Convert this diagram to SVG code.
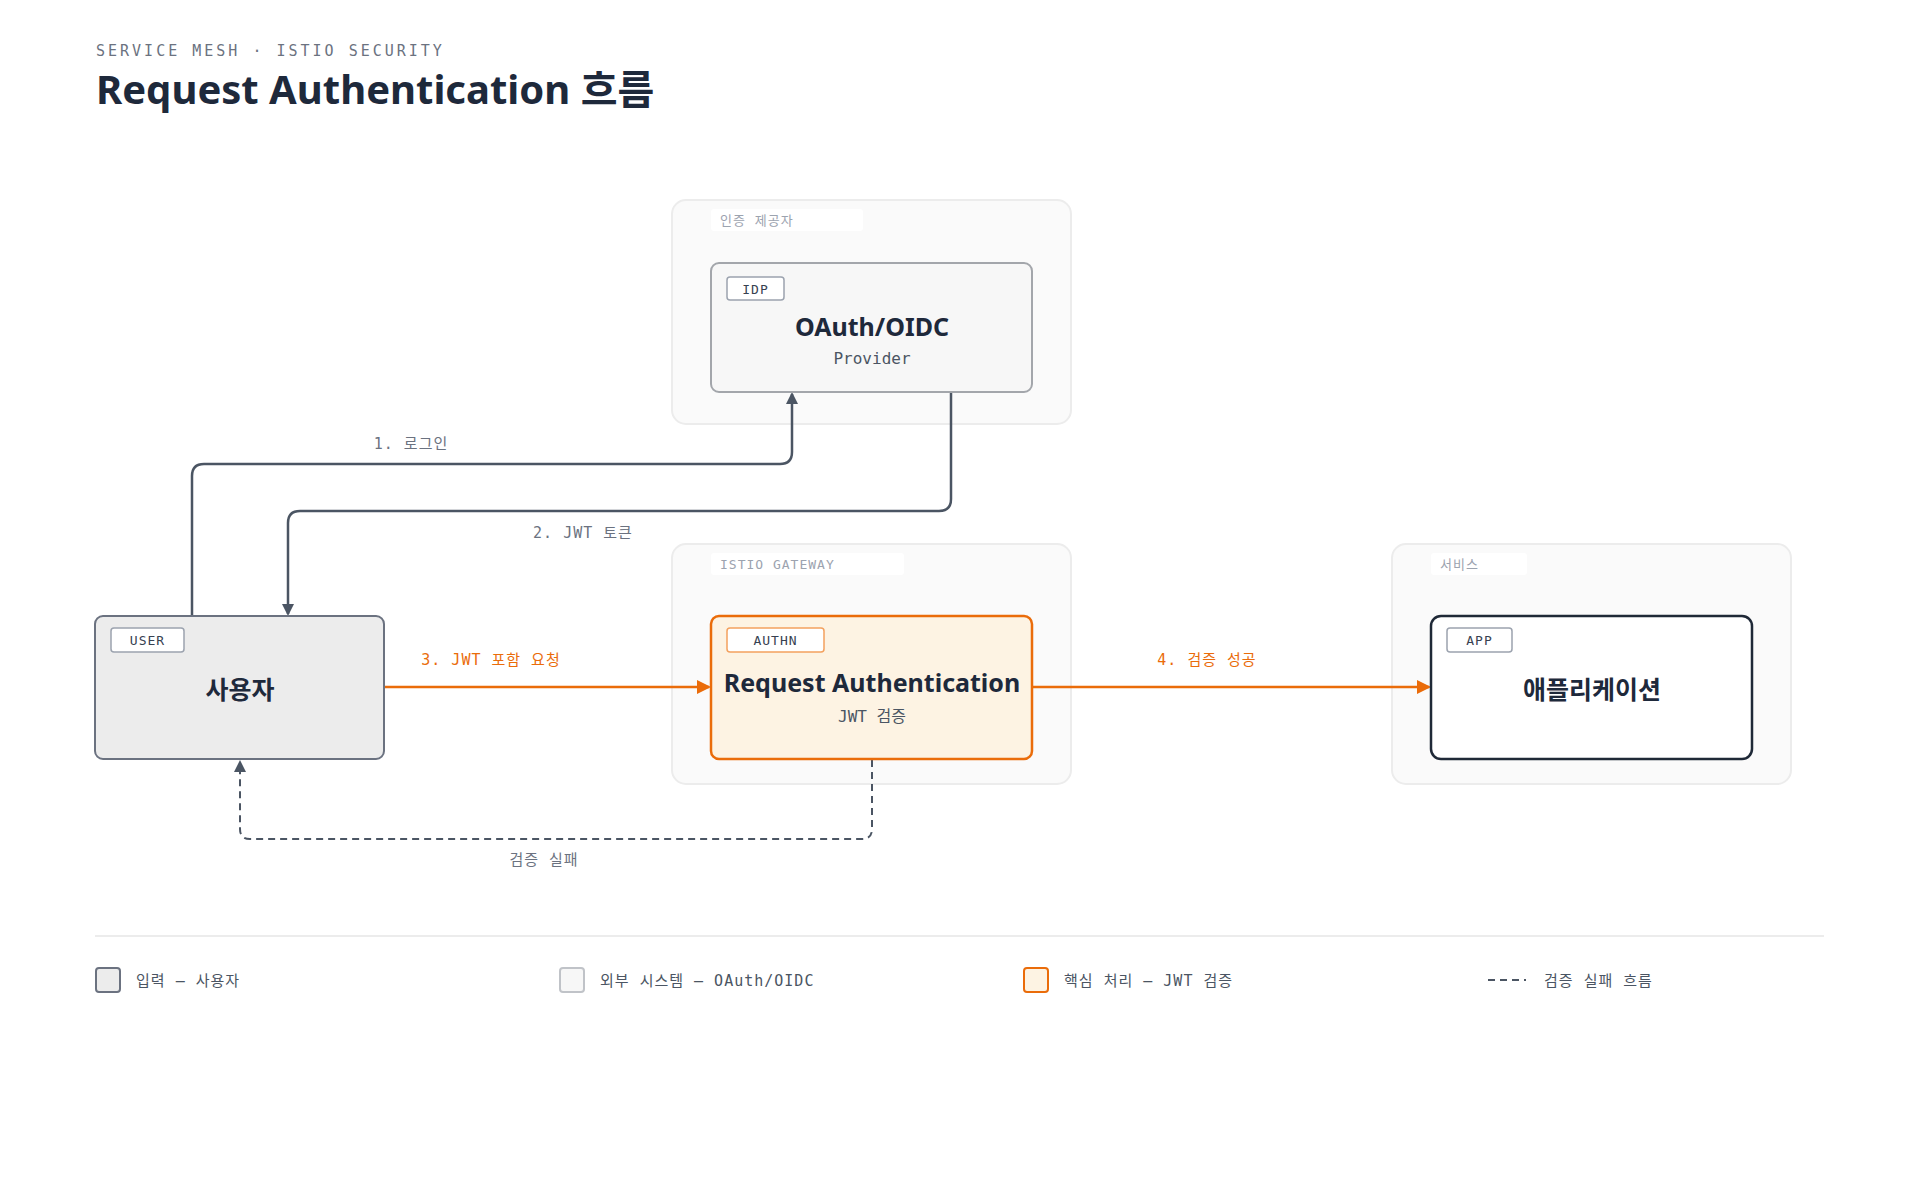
<svg xmlns="http://www.w3.org/2000/svg" width="1920" height="1200" viewBox="0 0 1920 1200">
<style>
.mono{font-family:"DejaVu Sans Mono","Liberation Mono","Noto Sans CJK KR",monospace}
.sans{font-family:"Noto Sans","Noto Sans CJK KR",sans-serif}
.grp{fill:#fafafa;stroke:#ececec;stroke-width:2}
.glab{fill:#ffffff}
.gtxt{font-size:13px;fill:#9ca3af;letter-spacing:1px}
.tag{fill:#ffffff;stroke:#9ca3af;stroke-width:1.5}
.tagt{font-size:13px;fill:#374151;letter-spacing:1px;text-anchor:middle}
.title{font-size:25px;font-weight:700;fill:#1e293b;text-anchor:middle}
.sub{font-size:16px;fill:#4b5563;text-anchor:middle}
.lbl{font-size:15px;fill:#6b7280;text-anchor:middle;letter-spacing:1px}
.olbl{font-size:15px;fill:#ea6c0a;text-anchor:middle;letter-spacing:1px}
.gray{fill:none;stroke:#4b5563;stroke-width:2.5}
.orng{fill:none;stroke:#ea6c0a;stroke-width:2.5}
.dash{fill:none;stroke:#4b5563;stroke-width:2;stroke-dasharray:7 5}
.leg{font-size:15px;fill:#4b5563;letter-spacing:1px}
</style>
<defs>
<marker id="ag" markerWidth="12" markerHeight="12" refX="10" refY="6" orient="auto" markerUnits="userSpaceOnUse"><path d="M0,0 L12,6 L0,12 z" fill="#4b5563"/></marker>
<marker id="ao" markerWidth="14" markerHeight="14" refX="12" refY="7" orient="auto" markerUnits="userSpaceOnUse"><path d="M0,0 L14,7 L0,14 z" fill="#ea6c0a"/></marker>
</defs>
<rect width="1920" height="1200" fill="#ffffff"/>
<text x="96" y="56" class="mono" font-size="15" fill="#6b7280" letter-spacing="3">SERVICE MESH · ISTIO SECURITY</text>
<text x="96" y="104" class="sans" font-size="40" font-weight="700" fill="#1e293b">Request Authentication 흐름</text>

<g id="group-idp">
<rect class="grp" x="672" y="200" width="399" height="224" rx="14"/>
<rect class="glab" x="711" y="209" width="152" height="22" rx="3"/>
<text class="mono gtxt" x="720" y="225">인증 제공자</text>
</g>
<g id="group-gateway">
<rect class="grp" x="672" y="544" width="399" height="240" rx="14"/>
<rect class="glab" x="711" y="553" width="193" height="22" rx="3"/>
<text class="mono gtxt" x="720" y="569">ISTIO GATEWAY</text>
</g>
<g id="group-service">
<rect class="grp" x="1392" y="544" width="399" height="240" rx="14"/>
<rect class="glab" x="1431" y="553" width="96" height="22" rx="3"/>
<text class="mono gtxt" x="1440" y="569">서비스</text>
</g>

<g id="connectors">
<path class="gray" d="M192,616 V476 Q192,464 204,464 H780 Q792,464 792,452 V394" marker-end="url(#ag)"/>
<text class="mono lbl" x="411" y="449">1. 로그인</text>
<path class="gray" d="M951,392 V499 Q951,511 939,511 H300 Q288,511 288,523 V614" marker-end="url(#ag)"/>
<text class="mono lbl" x="583" y="538">2. JWT 토큰</text>
<path class="orng" d="M384,687 H709" marker-end="url(#ao)"/>
<text class="mono olbl" x="491" y="665">3. JWT 포함 요청</text>
<path class="orng" d="M1032,687 H1429" marker-end="url(#ao)"/>
<text class="mono olbl" x="1207" y="665">4. 검증 성공</text>
<path class="dash" d="M872,760 V829 Q872,839 862,839 H250 Q240,839 240,829 V762" marker-end="url(#ag)"/>
<text class="mono lbl" x="544" y="865">검증 실패</text>
</g>

<g id="node-idp">
<rect x="711" y="263" width="321" height="129" rx="8" fill="#f7f7f7" stroke="#a3a6ab" stroke-width="2"/>
<rect class="tag" x="727" y="277" width="57" height="23" rx="3"/>
<text class="mono tagt" x="755.5" y="294">IDP</text>
<text class="sans title" x="872" y="336">OAuth/OIDC</text>
<text class="mono sub" x="872" y="364">Provider</text>
</g>
<g id="node-user">
<rect x="95" y="616" width="289" height="143" rx="8" fill="#ececec" stroke="#6b7280" stroke-width="2"/>
<rect class="tag" x="111" y="628" width="73" height="24" rx="3"/>
<text class="mono tagt" x="147.5" y="645">USER</text>
<text class="sans title" x="240" y="699">사용자</text>
</g>
<g id="node-authn">
<rect x="711" y="616" width="321" height="143" rx="8" fill="#fdf3e3" stroke="#ea6c0a" stroke-width="2.5"/>
<rect x="727" y="628" width="97" height="24" rx="3" fill="#ffffff" stroke="#f3a15f" stroke-width="1.5"/>
<text class="mono tagt" x="775.5" y="645" fill="#ea6c0a">AUTHN</text>
<text class="sans title" x="872" y="692">Request Authentication</text>
<text class="mono sub" x="872" y="722">JWT 검증</text>
</g>
<g id="node-app">
<rect x="1431" y="616" width="321" height="143" rx="10" fill="#ffffff" stroke="#1f2937" stroke-width="2.5"/>
<rect class="tag" x="1447" y="628" width="65" height="24" rx="3"/>
<text class="mono tagt" x="1479.5" y="645">APP</text>
<text class="sans title" x="1592" y="699">애플리케이션</text>
</g>

<g id="legend">
<line x1="95" y1="936" x2="1824" y2="936" stroke="#ececec" stroke-width="2"/>
<rect x="96" y="968" width="24" height="24" rx="3" fill="#ececec" stroke="#6b7280" stroke-width="2"/>
<text class="mono leg" x="136" y="986">입력 — 사용자</text>
<rect x="560" y="968" width="24" height="24" rx="3" fill="#f7f7f7" stroke="#c0c3c8" stroke-width="2"/>
<text class="mono leg" x="600" y="986">외부 시스템 — OAuth/OIDC</text>
<rect x="1024" y="968" width="24" height="24" rx="3" fill="#fdf3e3" stroke="#ea6c0a" stroke-width="2"/>
<text class="mono leg" x="1064" y="986">핵심 처리 — JWT 검증</text>
<line x1="1488" y1="980" x2="1526" y2="980" stroke="#4b5563" stroke-width="2" stroke-dasharray="7 5"/>
<text class="mono leg" x="1544" y="986">검증 실패 흐름</text>
</g>
</svg>
